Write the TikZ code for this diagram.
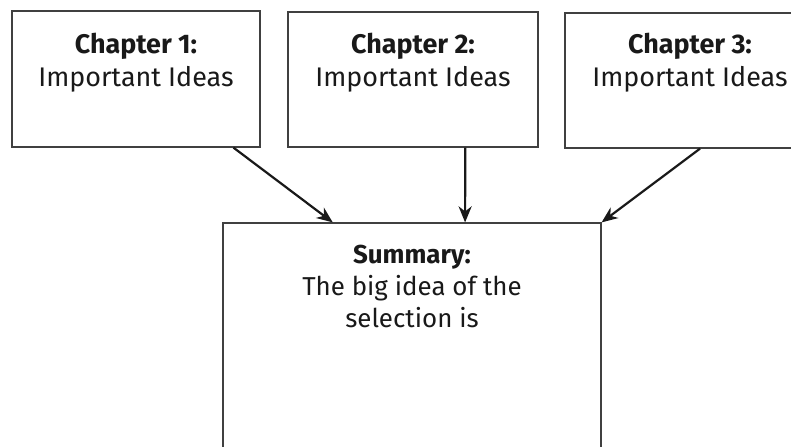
\documentclass[tikz,border=0pt]{standalone}
\usepackage{fontspec}
\setmainfont{Fira Sans}
\usetikzlibrary{calc,arrows.meta}
\begin{document}
\begin{tikzpicture}[x=1bp,y=-1bp,
  boxstyle/.style={draw=black!75,line width=1.2bp,rectangle,inner sep=0pt,fill=none},
  txt/.style={anchor=north,inner sep=0pt,align=center,font=\fontsize{27}{33}\selectfont,text=black!90},
  arr/.style={draw=black!90,line width=2.2bp,-{Stealth[length=16bp,width=13bp,inset=5bp]}}]
\useasboundingbox (0,0) rectangle (791,447);
\clip (0,0) rectangle (791,447);
\fill[white] (0,0) rectangle (791,447);
\node[boxstyle,minimum width=248bp,minimum height=136bp] (c1) at (136,79) {};
\node[boxstyle,minimum width=250bp,minimum height=135bp] (c2) at (413,79.5) {};
\node[boxstyle,minimum width=250bp,minimum height=135bp] (c3) at (690,80.5) {};
\node[boxstyle,minimum width=378bp,minimum height=240bp] (sum) at (412,343) {};
\node[txt] (t1) at ($(c1.north)+(0,23)$) {\textbf{Chapter 1:}\\Important Ideas};
\node[txt] (t2) at ($(c2.north)+(0,22)$) {\textbf{Chapter 2:}\\Important Ideas};
\node[txt] (t3) at ($(c3.north)+(0,21)$) {\textbf{Chapter 3:}\\Important Ideas};
\node[txt,font=\fontsize{26}{32}\selectfont] (ts) at ($(sum.north)+(0,23)$) {\textbf{Summary:}\\The big idea of the\\selection is};
\draw[arr] ($(c1.south west)!0.891!(c1.south east)$) -- ($(sum.north west)!0.291!(sum.north east)$);
\draw[arr] ($(c2.south west)!0.708!(c2.south east)$) -- ($(sum.north west)!0.640!(sum.north east)$);
\draw[arr] ($(c3.south west)!0.54!(c3.south east)$) -- (sum.north east);
\end{tikzpicture}
\end{document}
